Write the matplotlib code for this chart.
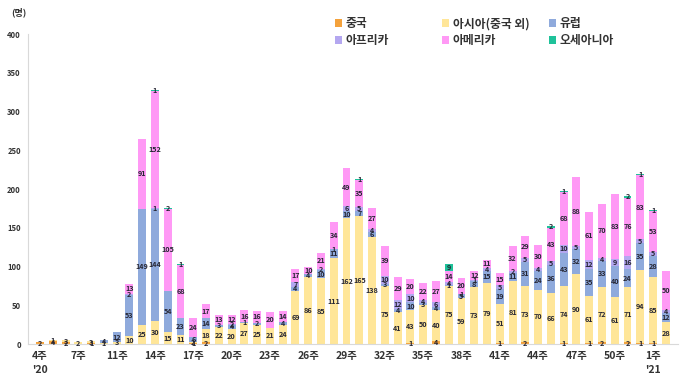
import matplotlib
matplotlib.use("Agg")
import matplotlib.pyplot as plt
from matplotlib.patches import Patch
import numpy as np

plt.rcParams['font.family'] = ['Noto Sans CJK KR', 'DejaVu Sans']

# ---- data (50 weekly bars, week 4 of 2020 .. week 2 of 2021) ----
china   = [2,4,2,0,1,0, 0,0,0,0,0,0, 1,2,0,0,0,0, 0,0,0,0,0,0,
           0,0,0,0,0,1, 0,4,0,0,0,0, 1,0,2,0,0,1, 0,1,2,0,2,1, 1,0]
asia    = [0,1,3,2,3,1, 3,10,25,30,15,11, 2,18,22,20,27,25, 21,24,69,86,85,111,
           162,165,138,75,41,43, 50,40,75,59,73,79, 51,81,73,70,66,74, 90,61,72,61,71,94, 85,28]
europe  = [0,0,0,0,0,4, 12,53,149,144,54,23, 6,14,3,4,1,2, 0,4,4,4,10,11,
           10,7,6,3,4,10, 3,4,1,5,8,15, 19,11,31,24,36,43, 32,35,33,40,24,35, 28,12]
africa  = [0,0,0,0,0,0, 0,2,0,1,0,0, 0,0,0,2,0,0, 0,0,7,0,2,1,
           6,5,4,10,12,10, 4,6,4,1,1,4, 5,2,5,4,5,10, 5,12,4,9,16,5, 5,4]
america = [0,0,0,0,0,0, 0,13,91,152,105,68, 24,17,13,12,16,16, 20,14,17,10,21,34,
           49,35,27,39,29,20, 22,27,14,20,12,11, 15,32,29,30,43,68, 88,61,70,83,76,83, 53,50]
oceania = [0,0,0,0,0,0, 0,0,0,1,2,1, 0,0,0,0,0,0, 0,0,0,0,0,0,
           0,1,0,0,0,0, 0,0,9,0,0,0, 0,0,0,0,2,1, 0,0,0,0,2,1, 1,0]

series_names = ['중국', '아시아(중국 외)', '유럽', '아프리카', '아메리카', '오세아니아']
series_vals = [china, asia, europe, africa, america, oceania]
colors = ['#F4A23C', '#FFE699', '#8FAADC', '#B4A7F0', '#FF99F5', '#1FC29A']

tick_pos = list(range(0, 49, 3))
tick_labels = ["4주\n'20", '7주', '11주', '14주', '17주', '20주', '23주', '26주', '29주',
               '32주', '35주', '38주', '41주', '44주', '47주', '50주', "1주\n'21"]

# ---- figure ----
fig = plt.figure(figsize=(6.8, 3.8), dpi=100)
ax = fig.add_axes([0.041, 0.0947, 0.956, 0.8158])

n = len(asia)
x = np.arange(n)
bottom = np.zeros(n)
width = 0.62
for name, vals, col in zip(series_names, series_vals, colors):
    v = np.array(vals, dtype=float)
    ax.bar(x, v, width, bottom=bottom, color=col, linewidth=0, label=name)
    for xi, b, val in zip(x, bottom, v):
        if val > 0:
            ax.text(xi, b + val / 2, f'{int(val)}', ha='center', va='center',
                    fontsize=5.2, color='#262633', fontweight='bold')
    bottom += v

ax.set_xlim(-0.95, n - 0.05)
ax.set_ylim(0, 400)
ax.set_yticks(range(0, 401, 50))
ax.tick_params(axis='y', length=0, labelsize=5.5, pad=5, labelcolor='#333333')
for lab in ax.get_yticklabels():
    lab.set_fontweight('bold')
ax.set_xticks(tick_pos)
ax.set_xticklabels(tick_labels, fontsize=7.5, fontweight='bold', color='#333333',
                   linespacing=1.5, va='top')
ax.tick_params(axis='x', length=0, pad=5)

for s in ['top', 'right']:
    ax.spines[s].set_visible(False)
ax.spines['left'].set_color('#D9D9D9')
ax.spines['bottom'].set_color('#D9D9D9')
ax.spines['left'].set_linewidth(0.8)
ax.spines['bottom'].set_linewidth(0.8)

fig.text(0.017, 0.968, '(명)', fontsize=6.5, fontweight='bold', color='#333333',
         ha='left', va='center')

# ---- legend: three columns ----
col_x = [0.493, 0.650, 0.807]
for ci in range(3):
    idx = [ci, ci + 3]
    handles = [Patch(facecolor=colors[i], edgecolor='none') for i in idx]
    labels = [series_names[i] for i in idx]
    leg = fig.legend(handles, labels, loc='upper left', bbox_to_anchor=(col_x[ci], 0.955),
                     frameon=False, fontsize=8.5, handlelength=0.6, handleheight=0.6,
                     handletextpad=0.3, labelspacing=0.35, borderaxespad=0, borderpad=0,
                     prop={'weight': 'bold', 'size': 8.5})
    for t in leg.get_texts():
        t.set_color('#333333')

fig.savefig('out.png', dpi=100)
